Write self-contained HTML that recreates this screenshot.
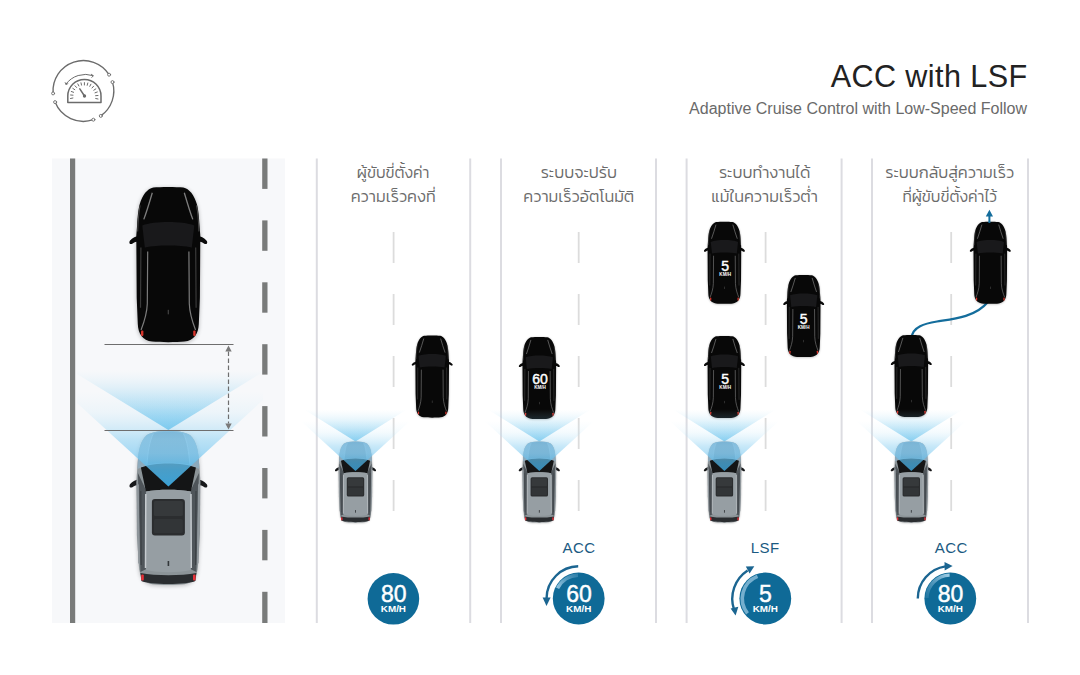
<!DOCTYPE html>
<html lang="th">
<head>
<meta charset="utf-8">
<title>ACC with LSF</title>
<style>
html,body{margin:0;padding:0;background:#fff;}
body{width:1080px;height:675px;overflow:hidden;position:relative;}
svg{display:block;position:absolute;left:0;top:0;}
text{font-family:"Liberation Sans","Kanit","Prompt","Noto Sans Thai","Loma",sans-serif;}
.th{font-family:"Kanit","Prompt","Noto Sans Thai","Loma","Liberation Sans",sans-serif;font-weight:300;font-size:16.3px;fill:#6b6b6b;text-anchor:middle;}
.num{fill:#fff;text-anchor:middle;stroke:#fff;stroke-width:0.45px;}
.kmh{fill:#fff;text-anchor:middle;font-weight:bold;}
.lab{fill:#1a5a82;text-anchor:middle;font-size:15px;letter-spacing:0.45px;}
</style>
</head>
<body>
<svg width="1080" height="675" viewBox="0 0 1080 675">
<defs>
  <!-- gradients for sensor beams -->
  <linearGradient id="gWide" x1="0" y1="1" x2="0" y2="0">
    <stop offset="0" stop-color="#46b5e8" stop-opacity="0.88"/>
    <stop offset="0.15" stop-color="#50b9ea" stop-opacity="0.7"/>
    <stop offset="0.4" stop-color="#62c0ec" stop-opacity="0.44"/>
    <stop offset="0.7" stop-color="#7ccbf0" stop-opacity="0.19"/>
    <stop offset="1" stop-color="#b5e2f7" stop-opacity="0"/>
  </linearGradient>
  <linearGradient id="gWideS" x1="0" y1="1" x2="0" y2="0">
    <stop offset="0" stop-color="#46b5e8" stop-opacity="0.74"/>
    <stop offset="0.15" stop-color="#50b9ea" stop-opacity="0.6"/>
    <stop offset="0.4" stop-color="#62c0ec" stop-opacity="0.38"/>
    <stop offset="0.7" stop-color="#7ccbf0" stop-opacity="0.16"/>
    <stop offset="1" stop-color="#b5e2f7" stop-opacity="0"/>
  </linearGradient>
  <linearGradient id="gNarrow" x1="0" y1="1" x2="0" y2="0">
    <stop offset="0" stop-color="#3fb0ea" stop-opacity="0.9"/>
    <stop offset="0.18" stop-color="#55bbee" stop-opacity="0.82"/>
    <stop offset="0.35" stop-color="#85cdf2" stop-opacity="0.72"/>
    <stop offset="0.5" stop-color="#98d5f3" stop-opacity="0.62"/>
    <stop offset="0.62" stop-color="#a6dbf5" stop-opacity="0.42"/>
    <stop offset="0.78" stop-color="#bbe4f8" stop-opacity="0.18"/>
    <stop offset="1" stop-color="#c9ebfa" stop-opacity="0"/>
  </linearGradient>
  <linearGradient id="gNarrowS" x1="0" y1="1" x2="0" y2="0">
    <stop offset="0" stop-color="#3fb0ea" stop-opacity="0.77"/>
    <stop offset="0.18" stop-color="#55bbee" stop-opacity="0.71"/>
    <stop offset="0.35" stop-color="#85cdf2" stop-opacity="0.62"/>
    <stop offset="0.5" stop-color="#98d5f3" stop-opacity="0.53"/>
    <stop offset="0.62" stop-color="#a6dbf5" stop-opacity="0.36"/>
    <stop offset="0.78" stop-color="#bbe4f8" stop-opacity="0.15"/>
    <stop offset="1" stop-color="#c9ebfa" stop-opacity="0.00"/>
  </linearGradient>
  <linearGradient id="hoodTint" x1="0" y1="0" x2="0" y2="1">
    <stop offset="0" stop-color="#48a4de" stop-opacity="0.62"/>
    <stop offset="0.6" stop-color="#48a4de" stop-opacity="0.4"/>
    <stop offset="1" stop-color="#48a4de" stop-opacity="0.18"/>
  </linearGradient>
  <linearGradient id="hl2" gradientUnits="userSpaceOnUse" x1="557" y1="589" x2="578" y2="575">
    <stop offset="0" stop-color="#9ccbe4" stop-opacity="0.95"/>
    <stop offset="1" stop-color="#6aa9cd" stop-opacity="0.35"/>
  </linearGradient>
  <linearGradient id="hl4" gradientUnits="userSpaceOnUse" x1="927" y1="598" x2="949" y2="575">
    <stop offset="0" stop-color="#5f9fc4" stop-opacity="0.25"/>
    <stop offset="1" stop-color="#a5d1e8" stop-opacity="0.95"/>
  </linearGradient>
  <filter id="sh" x="-30%" y="-10%" width="160%" height="120%">
    <feGaussianBlur stdDeviation="2.2"/>
  </filter>

  <!-- body outline shared by both cars : 64 wide x 154 long, origin top-centre -->
  <path id="body" d="M-15,0.4 C-21,1.5 -26,8 -28.6,17 C-30,22 -30.8,30 -31.2,38 L-32,48 L-31.6,110 L-30.5,136 C-30,146 -26,152 -16,153.6 C-8,154.4 8,154.4 16,153.6 C26,152 30,146 30.5,136 L31.6,110 L32,48 L31.2,38 C30.8,30 30,22 28.6,17 C26,8 21,1.5 15,0.4 C8,-0.3 -8,-0.3 -15,0.4 Z"/>
  <path id="gbody" d="M0,0 C-10,0 -17.5,1.2 -22,4.5 C-26.5,8.5 -29.4,16 -30.4,28 L-32,50 L-31.5,104 L-29.6,134 C-28.8,146 -25,151.6 -16,153.3 C-8,154.2 8,154.2 16,153.3 C25,151.6 28.8,146 29.6,134 L31.5,104 L32,50 L30.4,28 C29.4,16 26.5,8.5 22,4.5 C17.5,1.2 10,0 0,0 Z"/>
  <path id="mirrors" d="M-30,48.5 C-33.5,49 -37.5,51.5 -38.8,54 C-39.4,56.4 -37.8,57 -36,56.3 C-34,54.8 -32,54 -30,54 Z M30,48.5 C33.5,49 37.5,51.5 38.8,54 C39.4,56.4 37.8,57 36,56.3 C34,54.8 32,54 30,54 Z"/>

  <!-- black lead car -->
  <g id="blackcar">
    <use href="#body" fill="#000" opacity="0.28" filter="url(#sh)" transform="translate(0,1)"/>
    <use href="#mirrors" fill="#0a0a0a"/>
    <use href="#body" fill="#080808"/>
    <path d="M-26,38 C-14,33.5 14,33.5 26,38 L23.5,60 C10,57.5 -10,57.5 -23.5,60 Z" fill="#19191b"/>
    <path d="M-16,5.5 C-18.5,14 -21.5,24 -24.5,32 M16,5.5 C18.5,14 21.5,24 24.5,32" fill="none" stroke="#7d7d7d" stroke-width="1.3"/>
    <path d="M-28.2,18 C-29.6,25 -30.3,34 -30.6,44 M28.2,18 C29.6,25 30.3,34 30.6,44" fill="none" stroke="#4a4a4a" stroke-width="1"/>
    <path d="M-20.6,64 L-21,116 C-21.4,127 -24.5,135 -27.2,142 M20.6,64 L21,116 C21.4,127 24.5,135 27.2,142" fill="none" stroke="#7c7c7c" stroke-width="1.2"/>
    <path d="M-27.4,60 L-27.8,120 M27.4,60 L27.8,120" fill="none" stroke="#3a3a3a" stroke-width="1.2"/>
    <rect x="-0.6" y="122" width="1.2" height="4.5" fill="#444"/>
    
    <rect x="-27.3" y="142.5" width="2.4" height="5.5" rx="1" fill="#d8352c"/>
    <rect x="24.9" y="142.5" width="2.4" height="5.5" rx="1" fill="#d8352c"/>
  </g>

  <!-- grey ego car -->
  <g id="greycar">
    <use href="#gbody" fill="#000" opacity="0.25" filter="url(#sh)" transform="translate(0,1)"/>
    <use href="#mirrors" fill="#17181a"/>
    <use href="#gbody" fill="#8c9498"/>
    <!-- hood -->
    <path d="M0,0 C-10,0 -17.5,1.2 -22,4.5 C-26.5,8.5 -29.4,16 -30.4,28 L-31,38 C-14,31 14,31 31,38 L30.4,28 C29.4,16 26.5,8.5 22,4.5 C17.5,1.2 10,0 0,0 Z" fill="#a3abb0"/>
    <path d="M-15,2.5 C-19,10 -20.5,22 -21.5,33.5 C-8,31 8,31 21.5,33.5 C20.5,22 19,10 15,2.5 C8,0.6 -8,0.6 -15,2.5 Z" fill="#7f878c"/>
    <path d="M-15,2.5 C-19,10 -20.5,22 -21.5,33.5 M15,2.5 C19,10 20.5,22 21.5,33.5" fill="none" stroke="#c3c9cd" stroke-width="1"/>
    <path d="M0,0 C-10,0 -17.5,1.2 -22,4.5 C-26.5,8.5 -29.4,16 -30.4,28 L-31,38 C-14,31 14,31 31,38 L30.4,28 C29.4,16 26.5,8.5 22,4.5 C17.5,1.2 10,0 0,0 Z" fill="url(#hoodTint)"/>
    <!-- side glass -->
    <path d="M-30.5,42 L-22,60 L-22,138 L-28,141 Z M30.5,42 L22,60 L22,138 L28,141 Z" fill="#4f555a"/>
    <path d="M-31.8,50 L-29.6,54 L-28.6,134 L-30.2,132 Z M31.8,50 L29.6,54 L28.6,134 L30.2,132 Z" fill="#90979c"/>
    <path d="M-27.6,60 L-27.2,134 M27.6,60 L27.2,134" stroke="#3c4145" stroke-width="1.2" fill="none"/>
    
    <!-- windshield -->
    <path d="M-27.5,36.5 C-14,31 14,31 27.5,36.5 L22.5,60.5 C10,58 -10,58 -22.5,60.5 Z" fill="#141516"/>
    <!-- roof -->
    <path d="M-22.5,60.5 C-10,58 10,58 22.5,60.5 L22.5,139 C10,142 -10,142 -22.5,139 Z" fill="#969ea3"/>
    <rect x="-16.5" y="68" width="33" height="36.5" rx="3" fill="#2b2d2f"/>
    <rect x="-14.5" y="70" width="29" height="15" rx="1.5" fill="#36393b"/>
    <rect x="-14.5" y="88" width="29" height="14" rx="1.5" fill="#323537"/>
    <rect x="-0.8" y="130" width="1.6" height="5" fill="#33373a"/>
    <path d="M-22.6,63 L-22.9,137 M22.6,63 L22.9,137" stroke="#c6cbcf" stroke-width="1.5" fill="none"/>
    <!-- rear -->
    <path d="M-28,142 C-12,145 12,145 28,142 L27,150 C20,154 -20,154 -27,150 Z" fill="#2a2d30"/>
    <rect x="-27.2" y="143.5" width="2.6" height="6" rx="1" fill="#e8323a"/>
    <rect x="24.6" y="143.5" width="2.6" height="6" rx="1" fill="#e8323a"/>
  </g>

  <!-- ego car with both beams (small-car scale applied by caller) -->
  <g id="ego">
    <polygon points="0,0 -98,-61 98,-61" fill="url(#gWideS)"/>
    <use href="#greycar"/>
    <polygon points="0,56 -104,-39 104,-39" fill="url(#gNarrowS)"/>
  </g>

  <clipPath id="roadclip"><rect x="77" y="158.5" width="186" height="465"/></clipPath>
</defs>

<!-- ============ left road panel ============ -->
<rect x="52" y="158.5" width="233" height="464.5" fill="#f7f8fa"/>
<rect x="70" y="158.5" width="5.2" height="464.5" fill="#797b7a"/>
<g fill="#797b7a">
  <rect x="262.2" y="158.5" width="5.3" height="30.4"/>
  <rect x="262.2" y="220.4" width="5.3" height="30.4"/>
  <rect x="262.2" y="282.3" width="5.3" height="30.4"/>
  <rect x="262.2" y="344.2" width="5.3" height="30.4"/>
  <rect x="262.2" y="406.1" width="5.3" height="30.4"/>
  <rect x="262.2" y="468" width="5.3" height="30.4"/>
  <rect x="262.2" y="529.9" width="5.3" height="30.4"/>
  <rect x="262.2" y="591.8" width="5.3" height="31.2"/>
</g>
<use href="#blackcar" transform="translate(168.3,187.2) scale(1,1.005)"/>
<g clip-path="url(#roadclip)">
  <g transform="translate(168.4,431)">
    <polygon points="0,-1 -98,-61 98,-61" fill="url(#gWide)"/>
    <use href="#greycar"/>
    <polygon points="0,55.5 -104,-39.5 104,-39.5" fill="url(#gNarrow)"/>
  </g>
</g>
<g stroke="#6e6e6e" stroke-width="1" fill="none">
  <line x1="104.5" y1="344.5" x2="233.5" y2="344.5"/>
  <line x1="104.5" y1="430.5" x2="233.5" y2="430.5"/>
  <line x1="228.5" y1="351.5" x2="228.5" y2="423.5" stroke-dasharray="4.4 2.6" stroke-width="1.2"/>
</g>
<path d="M228.5,345.4 L231.7,351.4 L225.3,351.4 Z M228.5,429.6 L231.7,423.6 L225.3,423.6 Z" fill="#7a7a7a"/>

<!-- ============ column separators ============ -->
<g fill="#dcdce1">
  <rect x="315.8" y="158.5" width="2" height="464.5"/>
  <rect x="469.2" y="158.5" width="2" height="464.5"/>
  <rect x="500" y="158.5" width="2" height="464.5"/>
  <rect x="655" y="158.5" width="2" height="464.5"/>
  <rect x="685.6" y="158.5" width="2" height="464.5"/>
  <rect x="840.6" y="158.5" width="2" height="464.5"/>
  <rect x="871" y="158.5" width="2" height="464.5"/>
  <rect x="1027" y="158.5" width="2" height="464.5"/>
</g>
<!-- lane dashes in columns -->
<g stroke="#dcdcdc" stroke-width="1.8" stroke-dasharray="31 31" fill="none">
  <line x1="393.6" y1="232" x2="393.6" y2="511"/>
  <line x1="578.7" y1="232" x2="578.7" y2="511"/>
  <line x1="765.6" y1="232" x2="765.6" y2="511"/>
  <line x1="951.2" y1="232" x2="951.2" y2="511"/>
</g>

<!-- ============ column 1 ============ -->
<use href="#blackcar" transform="translate(432.2,335.6) scale(0.526,0.532)"/>
<use href="#ego" transform="translate(355.5,441.4) scale(0.528)"/>

<!-- ============ column 2 ============ -->
<use href="#blackcar" transform="translate(539.3,337) scale(0.526,0.532)"/>
<use href="#ego" transform="translate(539.3,441.4) scale(0.528)"/>

<!-- ============ column 3 ============ -->
<use href="#blackcar" transform="translate(724.4,221.7) scale(0.526,0.532)"/>
<use href="#blackcar" transform="translate(803.7,275) scale(0.526,0.532)"/>
<use href="#blackcar" transform="translate(724.4,336) scale(0.526,0.532)"/>
<use href="#ego" transform="translate(724.4,441.4) scale(0.528)"/>

<!-- ============ column 4 ============ -->
<path d="M911.5,338 C912.5,326.5 925,323.5 937,321.5 C949,319.5 975,318 987.8,302" fill="none" stroke="#146d9c" stroke-width="2.2"/>
<use href="#blackcar" transform="translate(990.3,221.7) scale(0.526,0.532)"/>
<use href="#blackcar" transform="translate(911.3,335) scale(0.526,0.532)"/>
<use href="#ego" transform="translate(911.3,441.4) scale(0.528)"/>
<path d="M989.4,223 L989.4,215" stroke="#146d9c" stroke-width="2" fill="none"/>
<path d="M989.4,209.8 L993,216.6 L985.8,216.6 Z" fill="#146d9c"/>

<!-- ============ speed badges ============ -->
<g fill="#0f6a97">
  <circle cx="393.4" cy="598.8" r="25.8"/>
  <circle cx="578.7" cy="598.5" r="25.9"/>
  <circle cx="765.3" cy="598.5" r="25.9"/>
  <circle cx="950.3" cy="598.5" r="25.9"/>
</g>

<!-- badge 2 : decelerate arrow (counter-clockwise) -->
<g>
  <path d="M578.2,566.3 A32.2,32.2 0 0 0 546.6,598" fill="none" stroke="#1b6591" stroke-width="2.4"/>
  <path d="M546.5,606 L542.6,597.6 L550.6,597.6 Z" fill="#1b6591"/>
  <path d="M557.6,588.2 A23.4,23.4 0 0 1 578,575.2" fill="none" stroke="url(#hl2)" stroke-width="3.4"/>
</g>
<!-- badge 3 : double arrow -->
<g>
  <path d="M747.6,570.5 A33.9,33.9 0 0 0 734,609.5" fill="none" stroke="#1b6591" stroke-width="2.4"/>
  <path d="M754.3,566.2 L745.8,566.6 L749.6,573.4 Z" fill="#1b6591"/>
  <path d="M735.6,615.6 L730.6,608.6 L738.3,606.8 Z" fill="#1b6591"/>
  <path d="M757.5,576.4 A23.8,23.8 0 0 0 747.5,613.4" fill="none" stroke="#8fc0dc" stroke-width="3.6" opacity="0.8"/>
</g>
<!-- badge 4 : accelerate arrow (clockwise) -->
<g>
  <path d="M917.8,598.5 A32.5,32.5 0 0 1 945.5,566.4" fill="none" stroke="#1b6591" stroke-width="2.4"/>
  <path d="M952.6,566.1 L944.5,562 L944.7,570.6 Z" fill="#1b6591"/>
  <path d="M926.9,598 A23.4,23.4 0 0 1 949.6,575.1" fill="none" stroke="url(#hl4)" stroke-width="3.4"/>
</g>

<!-- ============ text ============ -->
<text x="1027.6" y="87.3" text-anchor="end" font-size="30.6" fill="#222" letter-spacing="0.4">ACC with LSF</text>
<text x="1027" y="114" text-anchor="end" font-size="16" fill="#6a6a6a">Adaptive Cruise Control with Low-Speed Follow</text>

<text class="th" x="393.2" y="178" style="font-size:15.7px">ผู้ขับขี่ตั้งค่า</text>
<text class="th" x="393.2" y="201.6">ความเร็วคงที่</text>
<text class="th" x="578.8" y="178">ระบบจะปรับ</text>
<text class="th" x="578.8" y="201.6">ความเร็วอัตโนมัติ</text>
<text class="th" x="764.6" y="178">ระบบทำงานได้</text>
<text class="th" x="764.6" y="201.6">แม้ในความเร็วต่ำ</text>
<text class="th" x="949.7" y="178">ระบบกลับสู่ความเร็ว</text>
<text class="th" x="949.7" y="201.6" style="font-size:15.7px">ที่ผู้ขับขี่ตั้งค่าไว้</text>

<text class="lab" x="579" y="552.8">ACC</text>
<text class="lab" x="765.2" y="552.8">LSF</text>
<text class="lab" x="951.3" y="552.8">ACC</text>

<text class="num" x="393.8" y="601.6" font-size="23">80</text>
<text class="kmh" x="393.4" y="611.8" font-size="8.4" textLength="25.2" lengthAdjust="spacingAndGlyphs">KM/H</text>
<text class="num" x="579" y="601.6" font-size="23">60</text>
<text class="kmh" x="578.7" y="611.8" font-size="8.4" textLength="25.2" lengthAdjust="spacingAndGlyphs">KM/H</text>
<text class="num" x="765.3" y="601.6" font-size="23">5</text>
<text class="kmh" x="765.3" y="611.8" font-size="8.4" textLength="25.2" lengthAdjust="spacingAndGlyphs">KM/H</text>
<text class="num" x="950.6" y="601.6" font-size="23">80</text>
<text class="kmh" x="950.3" y="611.8" font-size="8.4" textLength="25.2" lengthAdjust="spacingAndGlyphs">KM/H</text>

<!-- speed labels on lead cars -->
<text class="num" x="540" y="383.8" font-size="14">60</text>
<text class="kmh" x="540" y="389.3" font-size="4.6">KM/H</text>
<text class="num" x="725.2" y="271" font-size="14">5</text>
<text class="kmh" x="725.2" y="276" font-size="4.6">KM/H</text>
<text class="num" x="803.6" y="323.5" font-size="14">5</text>
<text class="kmh" x="803.6" y="328.5" font-size="4.6">KM/H</text>
<text class="num" x="725.2" y="384.4" font-size="14">5</text>
<text class="kmh" x="725.2" y="389.4" font-size="4.6">KM/H</text>

<!-- ============ speedometer icon ============ -->
<g fill="none" stroke="#6b6b6b" stroke-width="1.35" stroke-linecap="round">
  <path d="M53.1,93.4 A30.4,30.4 0 0 1 109.1,74.7"/>
  <path d="M112.5,82.1 A30.4,30.4 0 0 1 100.8,115.9"/>
  <path d="M93.4,119.7 A30.4,30.4 0 0 1 55.1,102.1"/>
  <g fill="#fff" stroke-width="0.9">
    <circle cx="53.1" cy="93.4" r="1.5"/><circle cx="109.1" cy="74.7" r="1.5"/>
    <circle cx="112.5" cy="82.1" r="1.5"/><circle cx="100.8" cy="115.9" r="1.5"/>
    <circle cx="93.4" cy="119.7" r="1.5"/><circle cx="55.1" cy="102.1" r="1.5"/>
  </g>
  <path d="M67.8,102.6 L67.8,96 A16.6,16.6 0 0 1 101,96 L101,102.6 Z" stroke-width="1.5" stroke-linejoin="round"/>
  <path d="M84.5,96 L79.8,88.8" stroke-width="1.5"/>
  <circle cx="84.5" cy="96" r="1" fill="#6b6b6b"/>
  <path d="M66,84 A24,24 0 0 1 93,75.6" stroke-width="1"/>
  <path d="M65.2,82.6 L66,84.6 L67.9,83.6 M91.3,74.3 L93.3,75.7 L91.8,77.4" stroke-width="0.9"/>
  <g stroke-width="1">
    <path d="M70.5,98.5 L72.9,98 M70.6,95 L73,95.2 M71.3,91.5 L73.6,92.3 M72.8,88.4 L74.8,89.7 M75,85.8 L76.6,87.5 M77.8,83.9 L78.9,86 M81,82.8 L81.5,85.1 M84.4,82.6 L84.4,85 M87.8,83 L87.2,85.3 M90.9,84.2 L89.8,86.3 M93.6,86.2 L92,88 M95.8,88.9 L93.8,90.2 M97.3,92 L95,92.8 M98,95.5 L95.6,95.7 M98,99 L95.7,98.5"/>
  </g>
</g>
</svg>
</body>
</html>
